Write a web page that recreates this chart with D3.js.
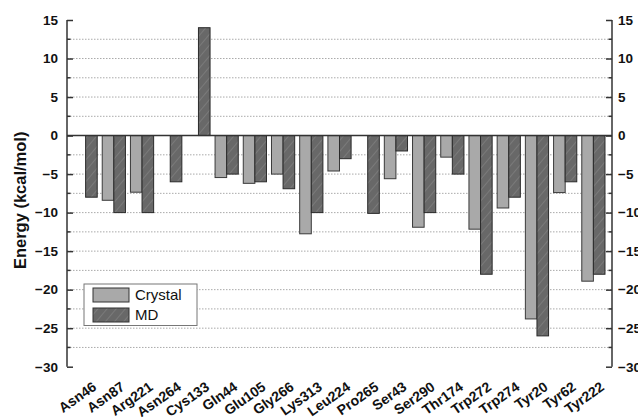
<!DOCTYPE html>
<html><head><meta charset="utf-8">
<script src="https://cdn.jsdelivr.net/npm/d3@7"></script>
<style>body{margin:0;background:#fff;} svg{display:block;font-family:"Liberation Sans",Arial,sans-serif;}</style>
</head><body><svg id="c" width="638" height="420"></svg>
<script>
const categories = ["Asn46","Asn87","Arg221","Asn264","Cys133","Gln44","Glu105","Gly266","Lys313","Leu224","Pro265","Ser43","Ser290","Thr174","Trp272","Trp274","Tyr20","Tyr62","Tyr222"];
const crystal = [0,-8.4,-7.35,0,0,-5.45,-6.2,-5.0,-12.75,-4.6,0,-5.6,-11.9,-2.8,-12.15,-9.4,-23.8,-7.4,-18.9];
const md = [-8.0,-10.0,-10.0,-6.0,14.0,-5.0,-6.0,-6.9,-10.0,-3.0,-10.1,-2.0,-10.0,-5.0,-18.0,-8.0,-26.0,-6.0,-18.0];
const yTicks = [15,10,5,0,-5,-10,-15,-20,-25,-30];
const gridVals = [12.5,10,7.5,5,2.5,-2.5,-5,-7.5,-10,-12.5,-15,-17.5,-20,-22.5,-25,-27.5];
const seriesNames = ["Crystal","MD"];

const svg = d3.select("#c");
const L = 67, R = 612, T = 20, B = 366.7;
const x = d3.scalePoint().domain(categories).range([L, R]).padding(0.66);
const y = d3.scaleLinear().domain([-30, 15]).range([B, T]);
const bw = 11.6;

const defs = svg.append("defs");
const pat = defs.append("pattern").attr("id","hatch").attr("patternUnits","userSpaceOnUse")
  .attr("width",7).attr("height",7).attr("patternTransform","rotate(40)");
pat.append("rect").attr("width",7).attr("height",7).attr("fill","#686868");
pat.append("line").attr("x1",0).attr("y1",0).attr("x2",0).attr("y2",7).attr("stroke","#8c8c8c").attr("stroke-width",1);

// grid
svg.append("g").selectAll("line").data(gridVals).join("line")
  .attr("x1", L).attr("x2", R).attr("y1", d=>y(d)).attr("y2", d=>y(d))
  .attr("stroke","#aaa").attr("stroke-width",1).attr("stroke-dasharray","1.5,1.5");

// bars
const g = svg.append("g");
categories.forEach((c,i)=>{
  if (crystal[i] !== 0) {
    g.append("rect").attr("x", x(c)-bw).attr("width", bw)
      .attr("y", Math.min(y(crystal[i]), y(0))).attr("height", Math.abs(y(crystal[i])-y(0)))
      .attr("fill","#a9a9a9").attr("stroke","#3a3a3a").attr("stroke-width",1);
  }
  if (md[i] !== 0) {
    g.append("rect").attr("x", x(c)).attr("width", bw)
      .attr("y", Math.min(y(md[i]), y(0))).attr("height", Math.abs(y(md[i])-y(0)))
      .attr("fill","url(#hatch)").attr("stroke","#2a2a2a").attr("stroke-width",1);
  }
});

// zero line
svg.append("line").attr("x1",L).attr("x2",R).attr("y1",y(0)).attr("y2",y(0)).attr("stroke","#333").attr("stroke-width",1.5);

// axes
const minorVals = d3.range(-30, 15.01, 2.5);
function axisG(side){
  const ax = (side==="left" ? d3.axisLeft(y) : d3.axisRight(y)).tickValues(yTicks).tickSize(-6).tickPadding(10).tickFormat(d3.format("d"));
  const gg = svg.append("g").attr("transform", `translate(${side==="left"?L:R},0)`).call(ax);
  gg.select(".domain").attr("stroke","#333").attr("stroke-width",1.5).attr("d", `M0,${y(15)}V${y(-30)}`);
  gg.selectAll(".tick line").attr("stroke","#333").attr("stroke-width",1.5);
  gg.selectAll(".tick text").attr("font-size",13.5).attr("font-weight","bold").attr("fill","#111")
    .attr("font-family",'"Liberation Sans",Arial,sans-serif');
  const dir = side==="left" ? 1 : -1;
  gg.selectAll(".minor").data(minorVals.filter(v=>!yTicks.includes(v))).join("line")
    .attr("class","minor").attr("x1",0).attr("x2",3.5*dir).attr("y1",d=>y(d)).attr("y2",d=>y(d))
    .attr("stroke","#333").attr("stroke-width",1.5);
  return gg;
}
const la = axisG("left");
la.selectAll(".tick text").attr("x", -9);
const ra = axisG("right");
ra.selectAll(".tick text").attr("x", 6);

// x labels
svg.append("g").selectAll("text").data(categories).join("text")
  .attr("transform", d=>`translate(${x(d)+9},${385}) rotate(-35)`)
  .attr("text-anchor","end").attr("dy","0.35em")
  .attr("font-size",14).attr("font-weight","bold").attr("fill","#111").text(d=>d);

// y title
svg.append("text").attr("transform",`translate(26,${(T+B)/2+7}) rotate(-90)`)
  .attr("text-anchor","middle").attr("font-size",16.5).attr("font-weight","bold").attr("fill","#111")
  .text("Energy (kcal/mol)");

// legend
const lg = svg.append("g");
lg.append("rect").attr("x",84).attr("y",284).attr("width",113).attr("height",41.5)
  .attr("fill","#fff").attr("stroke","#777").attr("stroke-width",1);
const fills = ["#a9a9a9","url(#hatch)"];
seriesNames.forEach((n,i)=>{
  lg.append("rect").attr("x",93).attr("y",288+i*20).attr("width",36).attr("height",14)
    .attr("fill",fills[i]).attr("stroke","#333").attr("stroke-width",1);
  lg.append("text").attr("x",135).attr("y",295+i*20).attr("dy","0.36em")
    .attr("font-size",15).attr("fill","#111").text(n);
});
</script></body></html>
